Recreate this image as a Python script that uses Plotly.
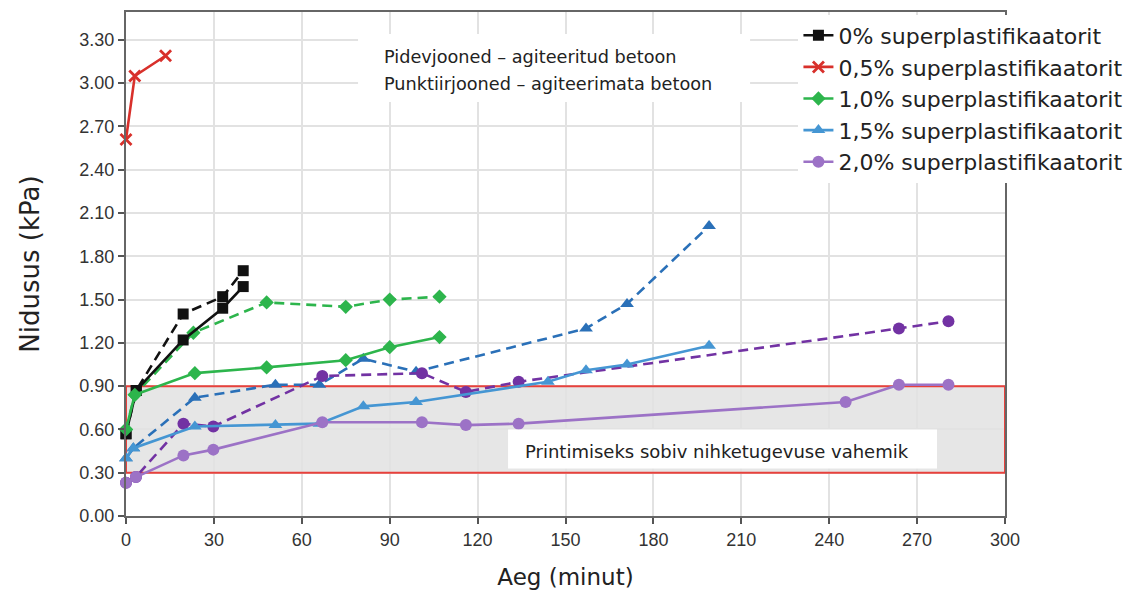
import plotly.graph_objects as go

# ---------------- data ----------------
t_0_solid = [0, 3.5, 19.5, 33, 40]
y_0_solid = [0.57, 0.87, 1.22, 1.44, 1.59]
t_0_dash = [0, 3.5, 19.5, 33, 40]
y_0_dash = [0.57, 0.87, 1.40, 1.52, 1.70]

t_05_solid = [0, 3, 13.5]
y_05_solid = [2.61, 3.05, 3.19]

t_10_solid = [0, 3, 23.5, 48, 75, 90, 107]
y_10_solid = [0.60, 0.84, 0.99, 1.03, 1.08, 1.17, 1.24]
t_10_dash = [0, 3, 23, 48, 75, 90, 107]
y_10_dash = [0.60, 0.84, 1.27, 1.48, 1.45, 1.50, 1.52]

t_15_solid = [0, 2.5, 23.5, 51, 66, 81, 99, 144, 157, 171, 199]
y_15_solid = [0.40, 0.47, 0.62, 0.63, 0.64, 0.76, 0.79, 0.93, 1.01, 1.05, 1.18]
t_15_dash = [0, 2.5, 23.5, 51, 66, 81, 99, 157, 171, 199]
y_15_dash = [0.40, 0.47, 0.82, 0.91, 0.91, 1.09, 1.00, 1.30, 1.47, 2.01]

t_20_solid = [0, 3.4, 19.6, 29.8, 67, 101, 116, 134, 245.6, 263.8, 280.7]
y_20_solid = [0.23, 0.27, 0.42, 0.46, 0.65, 0.65, 0.63, 0.64, 0.79, 0.91, 0.91]
t_20_dash = [0, 3.4, 19.6, 29.8, 67, 101, 116, 134, 263.8, 280.7]
y_20_dash = [0.23, 0.27, 0.64, 0.62, 0.97, 0.99, 0.86, 0.93, 1.30, 1.35]

legend_names = ["0% superplastifikaatorit", "0,5% superplastifikaatorit",
                "1,0% superplastifikaatorit", "1,5% superplastifikaatorit",
                "2,0% superplastifikaatorit"]

x_ticks = [0, 30, 60, 90, 120, 150, 180, 210, 240, 270, 300]
y_ticks = [0.0, 0.3, 0.6, 0.9, 1.2, 1.5, 1.8, 2.1, 2.4, 2.7, 3.0, 3.3]
y_tick_labels = ["0.00", "0.30", "0.60", "0.90", "1.20", "1.50", "1.80",
                 "2.10", "2.40", "2.70", "3.00", "3.30"]

band_low, band_high = 0.30, 0.90

note_band = "Printimiseks sobiv nihketugevuse vahemik"
note_line1 = "Pidevjooned – agiteeritud betoon"
note_line2 = "Punktiirjooned – agiteerimata betoon"

# ---------------- figure ----------------
fig = go.Figure()

DASH = "10px,6px"

def add(t, y, color, symbol, size, dash, name=None, legend=False, mlw=0):
    fig.add_trace(go.Scatter(
        x=t, y=y, mode="lines+markers", name=name, showlegend=legend,
        line=dict(color=color, width=2.6, dash=dash),
        marker=dict(color=color, symbol=symbol, size=size,
                    line=dict(color=color, width=mlw)),
        cliponaxis=False,
    ))

black = "#111111"
red = "#d8302b"
green = "#2db54c"
blue_d = "#2a70b8"
blue_s = "#4596d3"
purp_d = "#7232a3"
purp_s = "#9c72c6"

# dashed (non-agitated)
add(t_0_dash, y_0_dash, black, "square", 11, DASH)
add(t_10_dash, y_10_dash, green, "diamond", 11, DASH)
add(t_15_dash, y_15_dash, blue_d, "triangle-up", 12, DASH)
add(t_20_dash, y_20_dash, purp_d, "circle", 12, DASH)
# solid (agitated)
add(t_0_solid, y_0_solid, black, "square", 11, "solid", legend_names[0], True)
add(t_05_solid, y_05_solid, red, "x-thin-open", 11, "solid", legend_names[1], True, mlw=2.8)
add(t_10_solid, y_10_solid, green, "diamond", 11, "solid", legend_names[2], True)
add(t_15_solid, y_15_solid, blue_s, "triangle-up", 12, "solid", legend_names[3], True)
add(t_20_solid, y_20_solid, purp_s, "circle", 12, "solid", legend_names[4], True)

# grey 'printable' band (under gridlines) and red outline (over gridlines)
fig.add_shape(type="rect", xref="x", yref="y", x0=x_ticks[0], x1=x_ticks[-1],
              y0=band_low, y1=band_high, fillcolor="#e6e6e6",
              line=dict(width=0), layer="below")
fig.add_shape(type="rect", xref="x", yref="y", x0=x_ticks[0], x1=x_ticks[-1],
              y0=band_low, y1=band_high, fillcolor="rgba(0,0,0,0)",
              line=dict(color="#e8413c", width=2), layer="between")

# white boxes behind notes
fig.add_shape(type="rect", xref="x", yref="y", x0=130.4, x1=276.8, y0=0.33, y1=0.60,
              fillcolor="white", line=dict(width=0), layer="above")
fig.add_shape(type="rect", xref="x", yref="y", x0=79.2, x1=213, y0=2.87, y1=3.34,
              fillcolor="white", line=dict(width=0), layer="above")

fig.add_annotation(xref="x", yref="y", x=135.5, y=0.446, xanchor="left", yanchor="middle",
                   text=note_band, showarrow=False,
                   font=dict(family="DejaVu Sans", size=18, color="#222"))
fig.add_annotation(xref="x", yref="y", x=87.5, y=3.179, xanchor="left", yanchor="middle",
                   text=note_line1, align="left", showarrow=False,
                   font=dict(family="DejaVu Sans", size=17.7, color="#222"))
fig.add_annotation(xref="x", yref="y", x=87.5, y=2.994, xanchor="left", yanchor="middle",
                   text=note_line2, align="left", showarrow=False,
                   font=dict(family="DejaVu Sans", size=17.7, color="#222"))

fig.update_layout(
    width=1140, height=590,
    margin=dict(l=126, r=135, t=12, b=74, autoexpand=False),
    paper_bgcolor="white", plot_bgcolor="white",
    legend=dict(x=0.765, y=0.995, xanchor="left", yanchor="top",
                bgcolor="white", font=dict(family="DejaVu Sans", size=22, color="#222"),
                itemwidth=30, tracegroupgap=0),
)

fig.update_xaxes(
    range=[0, 300], tickvals=x_ticks, ticks="outside", ticklen=6, tickwidth=1.5,
    tickcolor="#555", showline=True, linecolor="#666", linewidth=2, mirror=True,
    showgrid=True, gridcolor="#e2e2e2", gridwidth=1.5, zeroline=False,
    automargin=False,
    tickfont=dict(family="Liberation Sans", size=18, color="#333"),
    title=dict(text="Aeg (minut)", font=dict(family="DejaVu Sans", size=23, color="#222"),
               standoff=26),
)
fig.update_yaxes(
    range=[0, 3.493], tickvals=y_ticks, ticktext=y_tick_labels, ticks="outside",
    ticklen=6, tickwidth=1.5, tickcolor="#555", showline=True, linecolor="#666",
    linewidth=2, mirror=True, showgrid=True, gridcolor="#e2e2e2", gridwidth=1.5,
    zeroline=False, automargin=False,
    tickfont=dict(family="Liberation Sans", size=18, color="#333"),
    title=dict(text="Nidusus (kPa)", font=dict(family="DejaVu Sans", size=26, color="#222"),
               standoff=32),
)

fig.write_html("out.html")
